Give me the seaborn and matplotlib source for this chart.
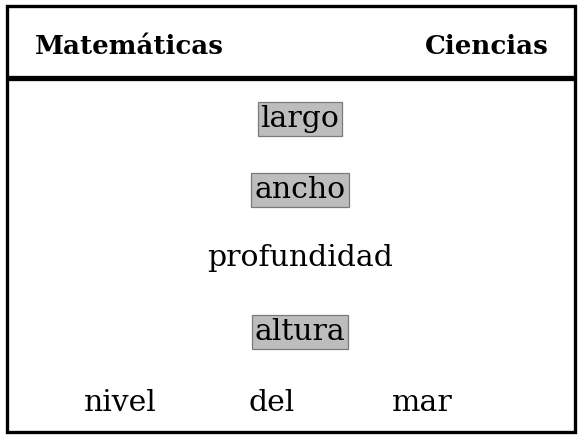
import matplotlib
matplotlib.use("Agg")
import matplotlib.pyplot as plt
import seaborn as sns

# header words and body words of the word table
headers = ["Matemáticas", "Ciencias"]
words = ["largo", "ancho", "profundidad", "altura"]
shaded = [True, True, False, True]
last_row = ["nivel", "del", "mar"]

sns.set_theme(style="white")
plt.rcParams['font.family'] = ['DejaVu Serif']
plt.rcParams['text.color'] = 'black'

W, H = 580, 437
fig = plt.figure(figsize=(W / 100, H / 100), dpi=100)
ax = fig.add_axes([0, 0, 1, 1])
ax.set_xlim(0, W)
ax.set_ylim(H, 0)
ax.axis("off")

# frame
ax.add_patch(plt.Rectangle((7, 6), 568, 426, fill=False, ec="black", lw=2.4))
ax.plot([7, 575], [77.5, 77.5], color="black", lw=3.8, solid_capstyle="butt")

# header
ax.text(35, 46, headers[0], ha="left", va="center", fontsize=18.8, fontweight="heavy")
ax.text(549, 46, headers[1], ha="right", va="center", fontsize=18.8, fontweight="heavy")

# column of words
ys = [119, 190, 258, 332]
for w, s, y in zip(words, shaded, ys):
    box = None
    if s:
        box = dict(boxstyle="square,pad=0.1", fc="#bdbdbd", ec="#7a7a7a", lw=0.9)
    ax.text(300, y, w, ha="center", va="center", fontsize=21.5, bbox=box)

xs = [120, 272, 422]
for w, x in zip(last_row, xs):
    ax.text(x, 403, w, ha="center", va="center", fontsize=21.5)

fig.savefig("out.png", dpi=100)
